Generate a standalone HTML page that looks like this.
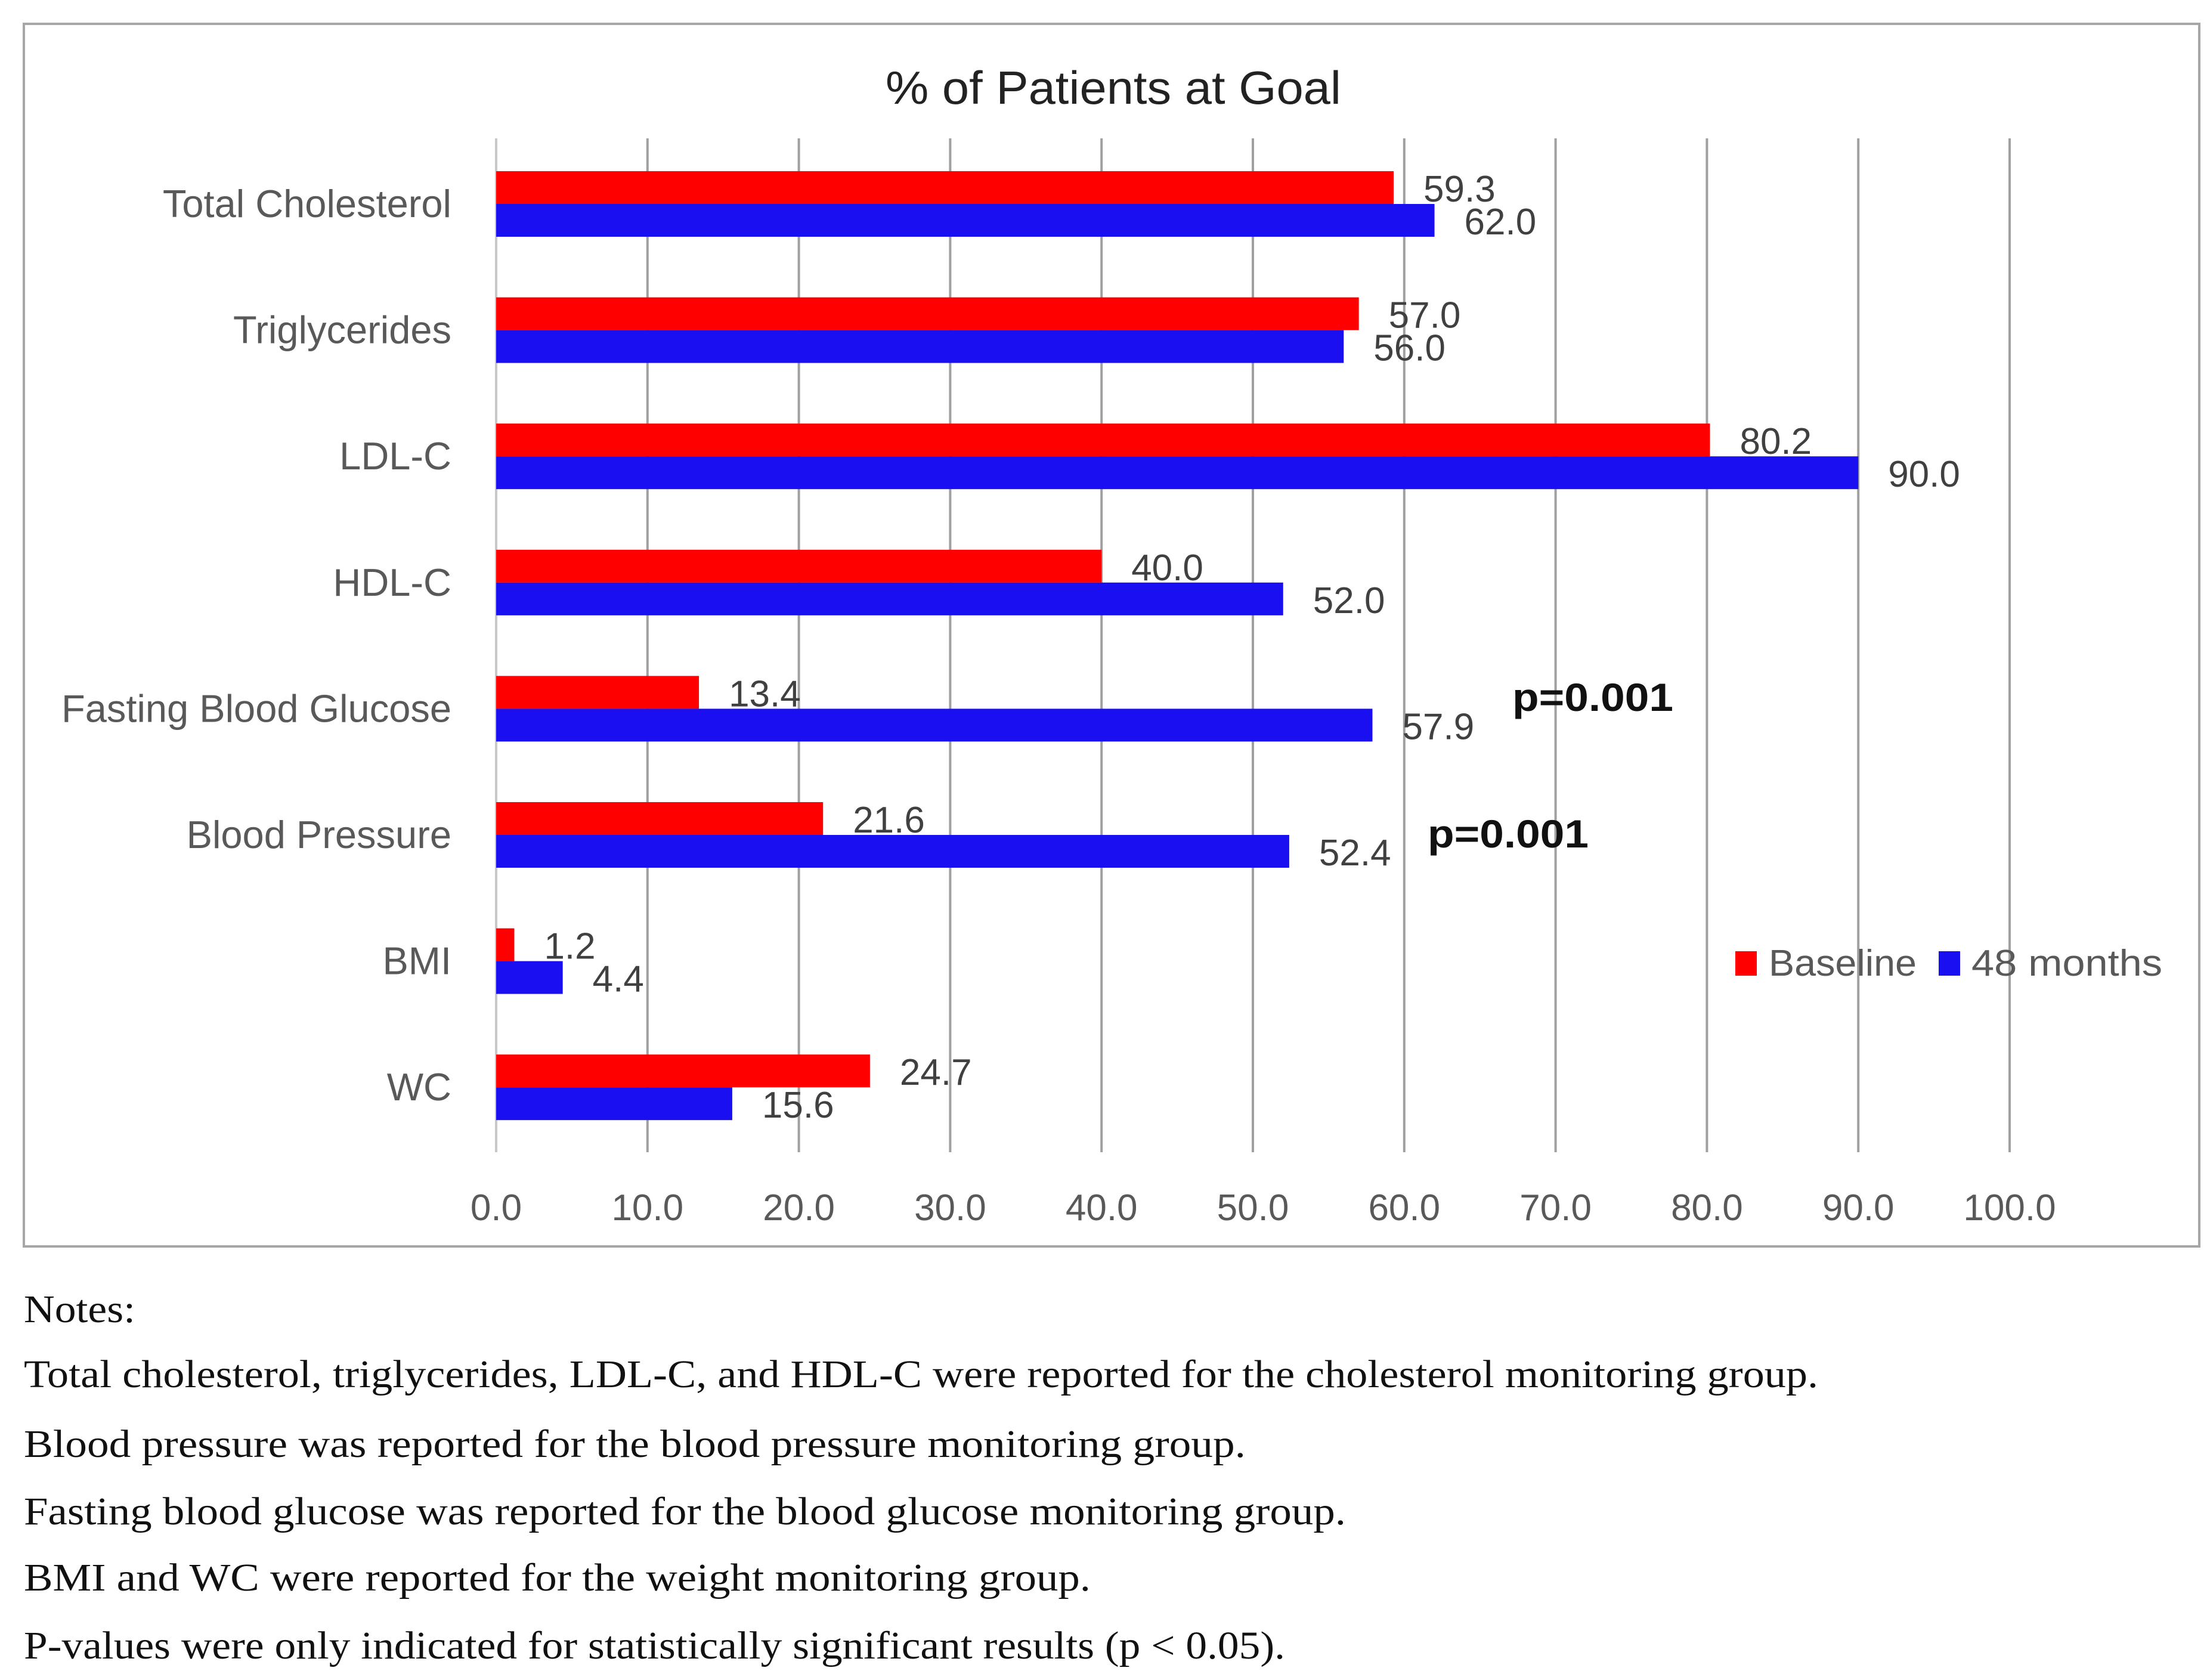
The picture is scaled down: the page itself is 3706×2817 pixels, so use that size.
<!DOCTYPE html>
<html><head><meta charset="utf-8"><style>
html,body{margin:0;padding:0;background:#fff;}
svg{display:block;}
</style></head><body>
<svg id="chart" width="3706" height="2817" viewBox="0 0 3706 2817" xmlns="http://www.w3.org/2000/svg">
<rect x="40" y="40" width="3648" height="2050" fill="#fff" stroke="#a6a6a6" stroke-width="4"/>
<text x="1867" y="174" text-anchor="middle" font-family="Liberation Sans, sans-serif" font-size="78" fill="#222" textLength="764" lengthAdjust="spacingAndGlyphs">% of Patients at Goal</text>
<g id="grid"></g>
<g id="bars"></g>
<g id="labels"></g>
<text x="2536" y="1192" font-family="Liberation Sans, sans-serif" font-weight="bold" font-size="66" fill="#111" textLength="270" lengthAdjust="spacingAndGlyphs">p=0.001</text>
<text x="2394" y="1421" font-family="Liberation Sans, sans-serif" font-weight="bold" font-size="66" fill="#111" textLength="270" lengthAdjust="spacingAndGlyphs">p=0.001</text>
<g>
<rect x="2910" y="1595" width="36" height="41" fill="#ff0000"/>
<text x="2966" y="1636" font-family="Liberation Sans, sans-serif" font-size="62" fill="#595959" textLength="248" lengthAdjust="spacingAndGlyphs">Baseline</text>
<rect x="3251" y="1595" width="36" height="41" fill="#1a0ff0"/>
<text x="3306" y="1636" font-family="Liberation Sans, sans-serif" font-size="62" fill="#595959" textLength="320" lengthAdjust="spacingAndGlyphs">48 months</text>
</g>
<g font-family="Liberation Serif, serif" font-size="66" fill="#111">
<text x="40" y="2217" textLength="187" lengthAdjust="spacingAndGlyphs">Notes:</text>
<text x="40" y="2326" textLength="3009" lengthAdjust="spacingAndGlyphs">Total cholesterol, triglycerides, LDL-C, and HDL-C were reported for the cholesterol monitoring group.</text>
<text x="40" y="2443" textLength="2049" lengthAdjust="spacingAndGlyphs">Blood pressure was reported for the blood pressure monitoring group.</text>
<text x="40" y="2556" textLength="2217" lengthAdjust="spacingAndGlyphs">Fasting blood glucose was reported for the blood glucose monitoring group.</text>
<text x="40" y="2667" textLength="1789" lengthAdjust="spacingAndGlyphs">BMI and WC were reported for the weight monitoring group.</text>
<text x="40" y="2781" textLength="2115" lengthAdjust="spacingAndGlyphs">P-values were only indicated for statistically significant results (p &lt; 0.05).</text>
</g>
</svg>
<script>
const categories = ["Total Cholesterol","Triglycerides","LDL-C","HDL-C","Fasting Blood Glucose","Blood Pressure","BMI","WC"];
const baseline = [59.3,57.0,80.2,40.0,13.4,21.6,1.2,24.7];
const months48 = [62.0,56.0,90.0,52.0,57.9,52.4,4.4,15.6];
const tickValues = [0,10,20,30,40,50,60,70,80,90,100];
const tickLabels = ["0.0","10.0","20.0","30.0","40.0","50.0","60.0","70.0","80.0","90.0","100.0"];

const NS = "http://www.w3.org/2000/svg";
const X0 = 832, PX = 25.38;
const xScale = v => X0 + v * PX;
const ROW0 = 342, ROWSTEP = 211.6, BARH = 55;
const yCenter = i => ROW0 + i * ROWSTEP;
function mk(tag, attrs, parent, text){
  const e = document.createElementNS(NS, tag);
  for (const k in attrs) e.setAttribute(k, attrs[k]);
  if (text !== undefined) e.textContent = text;
  parent.appendChild(e); return e;
}
const grid = document.getElementById('grid');
const bars = document.getElementById('bars');
const labels = document.getElementById('labels');
const sans = "Liberation Sans, sans-serif";
tickValues.forEach((v, i) => {
  const l = mk('line', {x1: xScale(v), x2: xScale(v), y1: 232, y2: 1932, stroke: v === 0 ? '#c8c8c8' : '#a0a0a0', 'stroke-width': 4}, grid);
  
  
  const t = mk('text', {x: xScale(v), y: 2046, 'text-anchor': 'middle', 'font-family': sans, 'font-size': 62, fill: '#595959'}, labels, tickLabels[i]);
  
  
});
categories.forEach((c, i) => {
  const yc = yCenter(i);
  const cl = mk('text', {x: 757, y: yc + 22, 'text-anchor': 'end', 'font-family': sans, 'font-size': 65, fill: '#595959'}, labels, c);
  
  
  const rb = mk('rect', {x: X0, y: yc - BARH, width: xScale(baseline[i]) - X0, height: BARH, fill: '#ff0000'}, bars);
  
  
  const bb = mk('rect', {x: X0, y: yc, width: xScale(months48[i]) - X0, height: BARH, fill: '#1a0ff0'}, bars);
  
  
  const rl = mk('text', {x: xScale(baseline[i]) + 50, y: yc - 4, 'font-family': sans, 'font-size': 62, fill: '#404040'}, labels, baseline[i].toFixed(1));
  
  
  const bl = mk('text', {x: xScale(months48[i]) + 50, y: yc + BARH - 4, 'font-family': sans, 'font-size': 62, fill: '#404040'}, labels, months48[i].toFixed(1));
  
  
});
</script>
</body></html>
